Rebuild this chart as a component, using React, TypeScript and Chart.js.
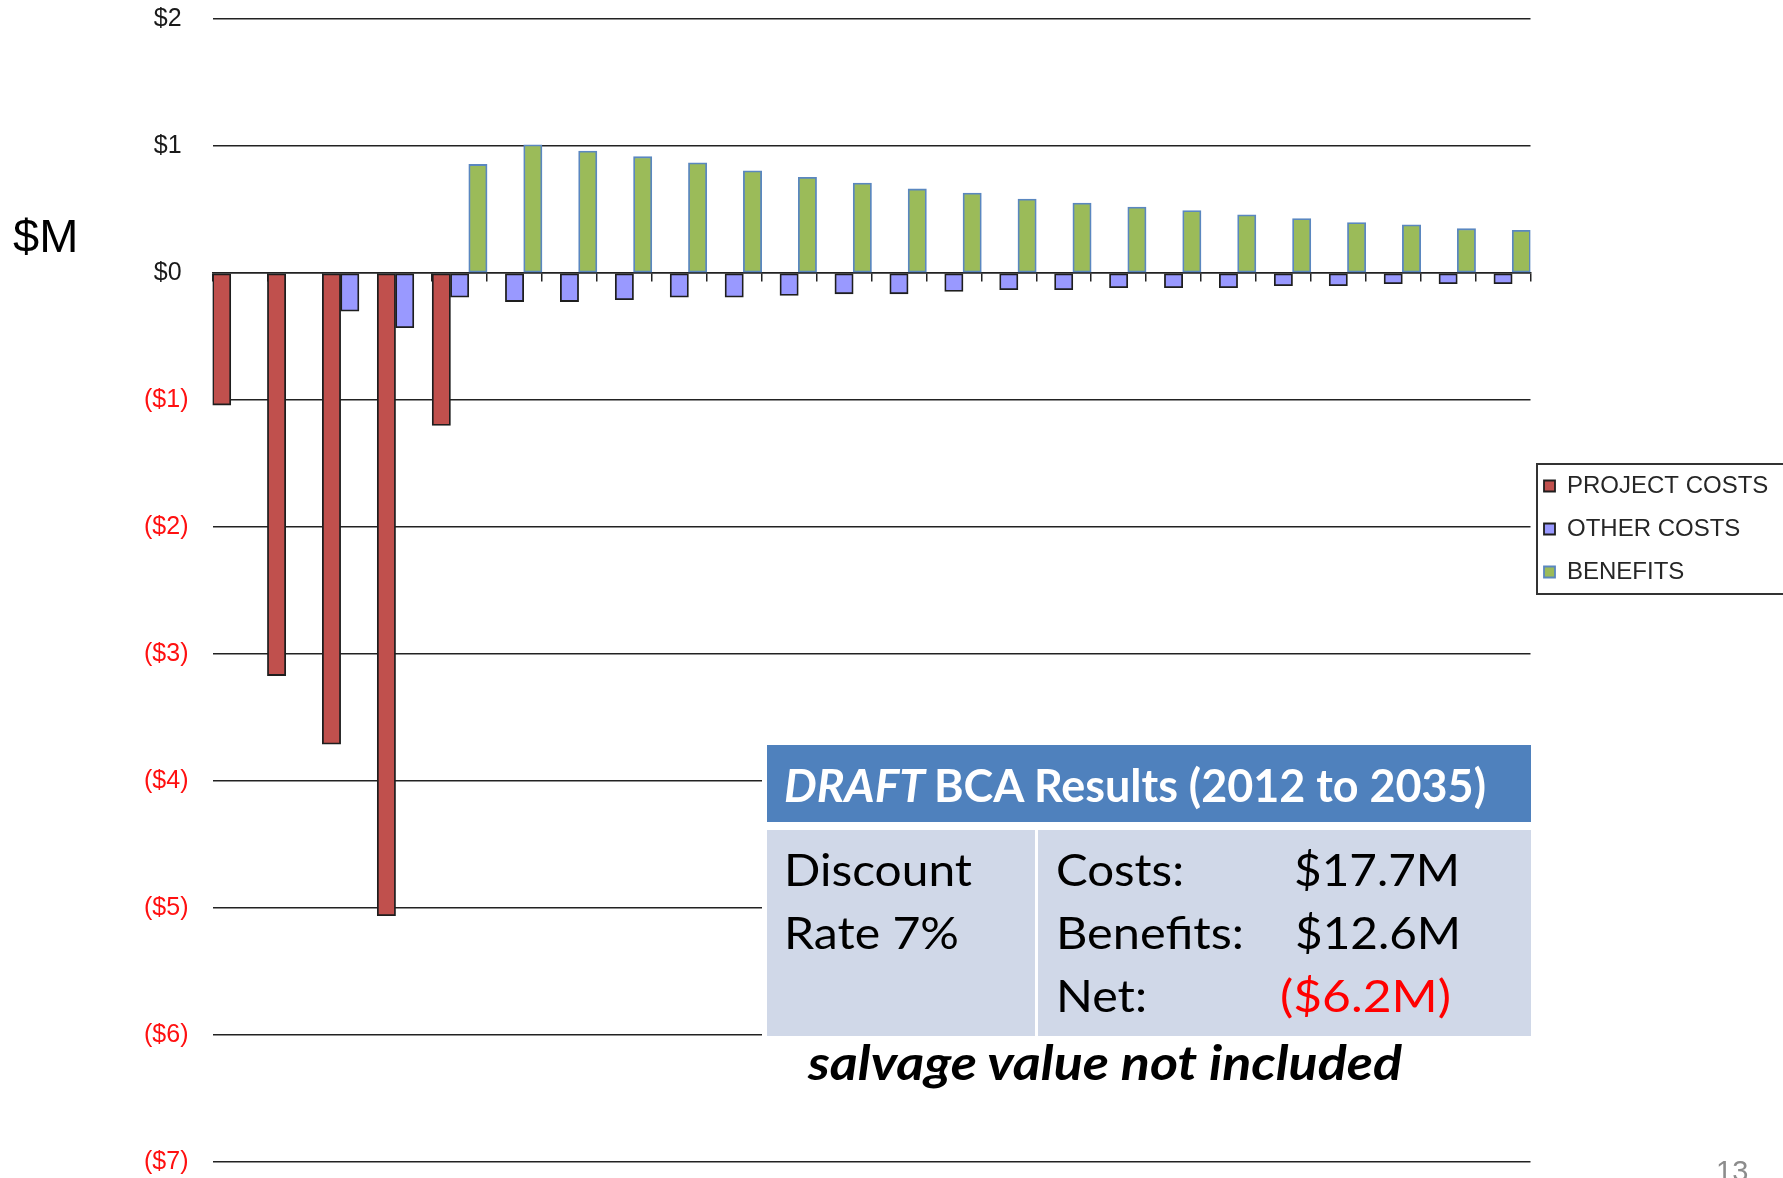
import React, { useEffect, useRef } from 'react';
import { Chart, registerables } from 'chart.js';

Chart.register(...registerables);

// ---------------- data ----------------
const years: string[] = [
  '2012', '2013', '2014', '2015', '2016', '2017', '2018', '2019', '2020', '2021', '2022', '2023',
  '2024', '2025', '2026', '2027', '2028', '2029', '2030', '2031', '2032', '2033', '2034', '2035',
];

const projectCosts: (number | null)[] = [
  -1.04, -3.17, -3.71, -5.06, -1.2, null, null, null, null, null, null, null,
  null, null, null, null, null, null, null, null, null, null, null, null,
];

const otherCosts: (number | null)[] = [
  null, null, -0.3, -0.43, -0.19, -0.225, -0.225, -0.21, -0.19, -0.19, -0.177, -0.164,
  -0.164, -0.145, -0.132, -0.132, -0.116, -0.116, -0.116, -0.1, -0.1, -0.084, -0.084, -0.084,
];

const benefits: (number | null)[] = [
  null, null, null, null, 0.855, 1.01, 0.96, 0.916, 0.868, 0.805, 0.754, 0.709,
  0.662, 0.63, 0.582, 0.551, 0.519, 0.492, 0.458, 0.429, 0.397, 0.379, 0.349, 0.336,
];

const seriesNames: string[] = ['PROJECT COSTS', 'OTHER COSTS', 'BENEFITS'];

const yMin = -7;
const yMax = 2;
const yStep = 1;

const axisTitle = '$M';
const headerItalic = 'DRAFT';
const headerRest = 'BCA Results (2012 to 2035)';
const rateLines: string[] = ['Discount', 'Rate 7%'];
const resultLabels: string[] = ['Costs:', 'Benefits:', 'Net:'];
const resultValues: string[] = ['$17.7M', '$12.6M', '($6.2M)'];
const footNote = 'salvage value not included';
const pageNumber = '13';

// ---------------- helpers ----------------
const fmtMoney = (v: number): string => (v < 0 ? `($${-v})` : `$${v} `);

const legendFrame = {
  id: 'legendFrame',
  afterLayout(chart: any) {
    const lg = chart.legend;
    if (!lg) return;
    lg.left = 1525;
    lg.top = 455;
    lg.right = 1783;
    lg.bottom = 620;
    lg.height = lg.bottom - lg.top;
  },
  afterDraw(chart: any) {
    const ctx = chart.ctx;
    ctx.save();
    ctx.strokeStyle = '#333333';
    ctx.lineWidth = 2;
    ctx.strokeRect(1537, 464, 260, 130);
    ctx.restore();
  },
};

const CAL = "Lato, 'Open Sans', sans-serif";
const ARIAL = "'Liberation Sans', Arial, sans-serif";

export default function App() {
  const canvasRef = useRef<HTMLCanvasElement | null>(null);

  useEffect(() => {
    if (!canvasRef.current) return;
    const gridColor = '#222222';
    const chart = new Chart(canvasRef.current, {
      type: 'bar',
      data: {
        labels: years,
        datasets: [
          {
            label: seriesNames[0],
            data: projectCosts,
            backgroundColor: '#C0504D',
            borderColor: '#1e1e1e',
            borderWidth: 1.8,
            borderSkipped: false,
          },
          {
            label: seriesNames[1],
            data: otherCosts,
            backgroundColor: '#9999FF',
            borderColor: '#1e1e1e',
            borderWidth: 1.8,
            borderSkipped: false,
          },
          {
            label: seriesNames[2],
            data: benefits,
            backgroundColor: '#9BBB59',
            borderColor: '#5A87C0',
            borderWidth: 1.8,
            borderSkipped: false,
          },
        ] as any,
      },
      options: {
        responsive: false,
        animation: false,
        devicePixelRatio: 1,
        events: [],
        layout: { padding: { left: 0, top: 19, right: 252.5, bottom: 16 } },
        datasets: {
          bar: { categoryPercentage: 1.0, barPercentage: 1.0 },
        } as any,
        scales: {
          x: {
            type: 'category',
            position: { y: 0 } as any,
            offset: true,
            grid: {
              offset: true,
              drawOnChartArea: false,
              drawTicks: true,
              tickLength: 8,
              color: gridColor,
              lineWidth: 1.5,
            },
            border: { display: true, color: gridColor, width: 1.5 },
            ticks: { display: false },
          },
          y: {
            min: yMin,
            max: yMax,
            afterFit: (scale: any) => {
              scale.width = 212.5;
              scale.paddingTop = 8;
              scale.paddingBottom = 8;
            },
            grid: { color: gridColor, lineWidth: 1.5, drawTicks: false },
            border: { display: false },
            ticks: {
              stepSize: yStep,
              padding: 24,
              font: { family: ARIAL, size: 25 },
              color: (ctx: any) => (ctx.tick && ctx.tick.value < 0 ? '#FF1010' : '#1a1a1a'),
              callback: (v: any) => fmtMoney(Number(v)),
            },
          },
        },
        plugins: {
          legend: {
            display: true,
            position: 'chartArea' as any,
            align: 'start',
            labels: {
              boxWidth: 11,
              boxHeight: 11,
              padding: 19,
              color: '#262626',
              font: { family: ARIAL, size: 24 },
            },
          },
          tooltip: { enabled: false },
        },
      },
      plugins: [legendFrame],
    });
    return () => chart.destroy();
  }, []);

  const rowBase = [886, 949, 1012];
  const rateLen = [188, 175];
  const labelLen = [128, 188, 91];
  const valueX = [1294, 1295, 1280];
  const valueLen = [166, 166, 171];

  return (
    <div
      style={{
        position: 'absolute',
        left: 0,
        top: 0,
        width: 1783,
        height: 1178,
        overflow: 'hidden',
        background: '#ffffff',
      }}
    >
      <canvas
        ref={canvasRef}
        width={1783}
        height={1178}
        style={{ position: 'absolute', left: 0, top: 0, width: 1783, height: 1178 }}
      />
      <svg
        width={1783}
        height={1178}
        style={{ position: 'absolute', left: 0, top: 0, pointerEvents: 'none' }}
      >
        <text x={13} y={252} fontFamily={ARIAL} fontSize={47} fill="#000">
          {axisTitle}
        </text>

        <rect x={762} y={742} width={770} height={297} fill="#ffffff" />
        <rect x={767} y={745} width={764} height={77} fill="#4F81BD" />
        <rect x={767} y={830} width={268} height={206} fill="#D0D8E8" />
        <rect x={1038} y={830} width={493} height={206} fill="#D0D8E8" />

        <text
          x={784}
          y={802}
          fontFamily={CAL}
          fontSize={46}
          fontWeight="bold"
          fontStyle="italic"
          fill="#ffffff"
          textLength={141}
          lengthAdjust="spacingAndGlyphs"
        >
          {headerItalic}
        </text>
        <text
          x={934}
          y={802}
          fontFamily={CAL}
          fontSize={46}
          fontWeight="bold"
          fill="#ffffff"
          textLength={552}
          lengthAdjust="spacingAndGlyphs"
        >
          {headerRest}
        </text>

        {rateLines.map((t, i) => (
          <text
            key={'r' + i}
            x={784}
            y={rowBase[i]}
            fontFamily={CAL}
            fontSize={44}
            fill="#000"
            textLength={rateLen[i]}
            lengthAdjust="spacingAndGlyphs"
          >
            {t}
          </text>
        ))}
        {resultLabels.map((t, i) => (
          <text
            key={'l' + i}
            x={1056}
            y={rowBase[i]}
            fontFamily={CAL}
            fontSize={44}
            fill="#000"
            textLength={labelLen[i]}
            lengthAdjust="spacingAndGlyphs"
          >
            {t}
          </text>
        ))}
        {resultValues.map((t, i) => (
          <text
            key={'v' + i}
            x={valueX[i]}
            y={rowBase[i]}
            fontFamily={CAL}
            fontSize={44}
            fill={i === 2 ? '#FF0000' : '#000'}
            textLength={valueLen[i]}
            lengthAdjust="spacingAndGlyphs"
          >
            {t}
          </text>
        ))}

        <text
          x={808}
          y={1080}
          fontFamily={CAL}
          fontSize={48}
          fontWeight="bold"
          fontStyle="italic"
          fill="#000"
          textLength={594}
          lengthAdjust="spacingAndGlyphs"
        >
          {footNote}
        </text>

        <text x={1716} y={1181} fontFamily={ARIAL} fontSize={29} fill="#8c8c8c">
          {pageNumber}
        </text>
      </svg>
    </div>
  );
}
